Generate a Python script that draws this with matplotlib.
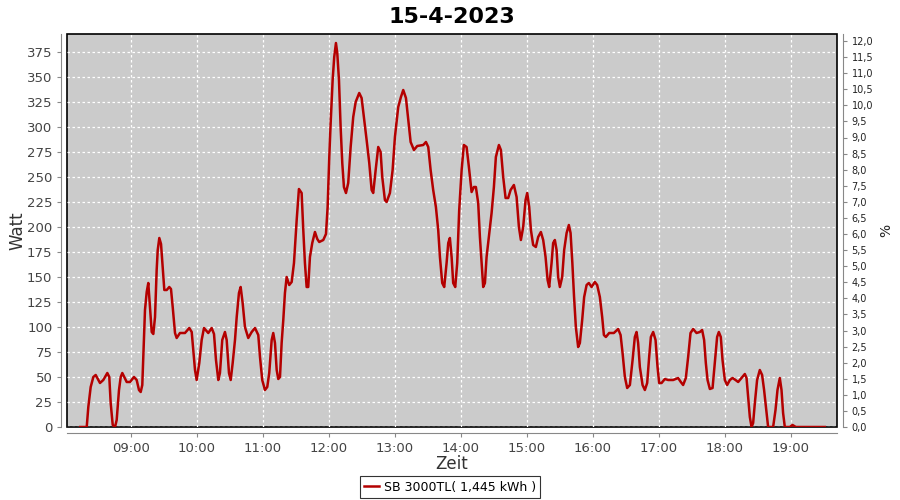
import matplotlib.pyplot as plt
from matplotlib.ticker import FuncFormatter

# Zeit in Stunden (dezimal), Leistung in Watt
hours = [8.230, 8.253, 8.329, 8.353, 8.389, 8.429, 8.465, 8.530, 8.580, 8.641, 8.671,
         8.692, 8.723, 8.758, 8.783, 8.818, 8.844, 8.868, 8.935, 8.985, 9.045, 9.086,
         9.121, 9.147, 9.171, 9.186, 9.212, 9.238, 9.262, 9.288, 9.314, 9.338, 9.364,
         9.389, 9.405, 9.429, 9.455, 9.480, 9.505, 9.541, 9.580, 9.606, 9.632, 9.667,
         9.692, 9.742, 9.818, 9.883, 9.920, 9.944, 9.970, 9.995, 10.035, 10.071, 10.106,
         10.171, 10.223, 10.258, 10.288, 10.323, 10.348, 10.383, 10.424, 10.450, 10.485,
         10.511, 10.541, 10.576, 10.602, 10.636, 10.662, 10.692, 10.727, 10.777, 10.829,
         10.879, 10.929, 10.955, 10.989, 11.030, 11.065, 11.095, 11.132, 11.156, 11.182,
         11.208, 11.232, 11.258, 11.283, 11.308, 11.333, 11.359, 11.398, 11.435, 11.470,
         11.511, 11.545, 11.586, 11.611, 11.636, 11.662, 11.686, 11.712, 11.747, 11.788,
         11.823, 11.853, 11.914, 11.955, 11.980, 12.005, 12.026, 12.056, 12.080, 12.106,
         12.126, 12.152, 12.177, 12.202, 12.227, 12.258, 12.292, 12.329, 12.368, 12.405,
         12.459, 12.495, 12.530, 12.571, 12.611, 12.647, 12.671, 12.708, 12.747, 12.783,
         12.808, 12.848, 12.874, 12.924, 12.965, 13.000, 13.050, 13.091, 13.126, 13.167,
         13.202, 13.238, 13.288, 13.338, 13.429, 13.470, 13.505, 13.541, 13.580, 13.621,
         13.656, 13.682, 13.717, 13.747, 13.783, 13.808, 13.833, 13.859, 13.883, 13.914,
         13.944, 13.974, 14.011, 14.045, 14.086, 14.121, 14.162, 14.197, 14.227, 14.262,
         14.288, 14.314, 14.338, 14.364, 14.389, 14.424, 14.465, 14.500, 14.530, 14.576,
         14.606, 14.641, 14.677, 14.717, 14.753, 14.803, 14.844, 14.879, 14.909, 14.944,
         14.980, 15.005, 15.035, 15.061, 15.095, 15.136, 15.171, 15.212, 15.247, 15.283,
         15.314, 15.338, 15.374, 15.398, 15.424, 15.450, 15.474, 15.500, 15.535, 15.565,
         15.602, 15.636, 15.662, 15.689, 15.715, 15.742, 15.777, 15.803, 15.838, 15.868,
         15.905, 15.939, 15.980, 16.030, 16.065, 16.106, 16.141, 16.167, 16.197, 16.247,
         16.318, 16.383, 16.420, 16.450, 16.485, 16.520, 16.561, 16.602, 16.636, 16.662,
         16.686, 16.712, 16.753, 16.788, 16.823, 16.853, 16.879, 16.914, 16.950, 16.980,
         17.005, 17.041, 17.091, 17.141, 17.217, 17.292, 17.333, 17.368, 17.409, 17.444,
         17.480, 17.520, 17.571, 17.621, 17.656, 17.686, 17.712, 17.738, 17.773, 17.814,
         17.848, 17.883, 17.909, 17.939, 17.965, 18.000, 18.035, 18.076, 18.117, 18.162,
         18.202, 18.253, 18.303, 18.329, 18.353, 18.379, 18.405, 18.429, 18.455, 18.489,
         18.530, 18.565, 18.595, 18.632, 18.656, 18.732, 18.768, 18.798, 18.833, 18.859,
         18.883, 18.909, 18.985, 19.026, 19.076, 19.515]
watt = [0, 0, 0, 20, 40, 50, 52, 44, 47, 54, 50,
        24, 2, 0, 7, 37, 50, 54, 45, 45, 50, 47,
        37, 35, 42, 70, 117, 135, 144, 120, 95, 93, 110,
        157, 177, 189, 183, 160, 137, 137, 140, 138, 120, 94,
        89, 94, 94, 99, 95, 77, 57, 47, 64, 87, 99,
        94, 99, 93, 67, 47, 54, 87, 95, 87, 54,
        47, 64, 87, 110, 134, 140, 124, 100, 89, 95,
        99, 92, 70, 47, 37, 40, 54, 87, 94, 84,
        57, 48, 50, 84, 107, 134, 150, 142, 145, 164,
        207, 238, 234, 197, 164, 140, 140, 170, 184, 195,
        188, 185, 187, 193, 220, 270, 304, 347, 370, 384,
        374, 347, 300, 264, 240, 234, 244, 280, 310, 325,
        334, 329, 310, 287, 264, 237, 234, 257, 280, 275,
        250, 227, 225, 234, 257, 290, 320, 330, 337, 329,
        307, 285, 277, 281, 282, 285, 280, 257, 237, 220,
        197, 170, 144, 140, 164, 184, 189, 170, 144, 140,
        164, 217, 257, 282, 280, 260, 235, 240, 240, 224,
        190, 164, 140, 144, 170, 190, 214, 240, 270, 282,
        277, 250, 229, 229, 237, 242, 230, 200, 187, 200,
        227, 234, 220, 197, 182, 180, 190, 195, 187, 170,
        147, 140, 164, 184, 187, 177, 150, 140, 150, 177,
        194, 202, 194, 164, 130, 100, 80, 84, 107, 130,
        142, 144, 140, 145, 142, 130, 110, 92, 90, 94,
        94, 98, 92, 74, 50, 39, 42, 67, 90, 95,
        84, 60, 42, 37, 44, 70, 90, 95, 87, 60,
        44, 44, 48, 47, 47, 49, 45, 42, 49, 70,
        94, 98, 94, 95, 97, 87, 64, 47, 38, 39,
        64, 90, 95, 90, 67, 47, 42, 47, 49, 47,
        45, 49, 53, 49, 30, 10, 0, 4, 24, 47,
        57, 52, 37, 14, 0, 0, 17, 37, 49, 37,
        14, 0, 0, 2, 0, 0]

tick_hours = [9, 10, 11, 12, 13, 14, 15, 16, 17, 18, 19]
tick_labels = ['09:00', '10:00', '11:00', '12:00', '13:00', '14:00', '15:00',
               '16:00', '17:00', '18:00', '19:00']
watt_ticks = list(range(0, 376, 25))
pct_ticks = [i * 0.5 for i in range(25)]

fig = plt.figure(figsize=(9, 5), dpi=100)
ax = fig.add_axes([67 / 900, 73 / 500, 770 / 900, 393 / 500])

ax.set_facecolor('#cbcbcb')
ax.patch.set_edgecolor('black')
ax.patch.set_linewidth(1.2)

ax.plot(hours, watt, color='#b40000', linewidth=1.8, label='SB 3000TL( 1,445 kWh )')

ax.set_xlim(8.03, 19.70)
ax.set_ylim(0, 393)
ax.set_xticks(tick_hours)
ax.set_xticklabels(tick_labels)
ax.set_yticks(watt_ticks)
ax.grid(True, color='white', linestyle=(0, (2, 2)), linewidth=0.9)

for s in ['top', 'right']:
    ax.spines[s].set_visible(False)
for s in ['left', 'bottom']:
    ax.spines[s].set_position(('outward', 4))
    ax.spines[s].set_color('#888888')
ax.tick_params(axis='both', colors='#888888', labelcolor='#444444', labelsize=9.5,
               length=3, width=0.8)

ax.set_xlabel('Zeit', fontsize=12, color='#333333', labelpad=0)
ax.set_ylabel('Watt', fontsize=12, color='#333333', labelpad=0)
ax.set_title('15-4-2023', fontsize=16, fontweight='bold', pad=8)

# rechte Achse in Prozent
ax2 = ax.twinx()
ax2.set_ylim(0, 393 / (386 / 12))
ax2.set_yticks(pct_ticks)
ax2.yaxis.set_major_formatter(FuncFormatter(lambda v, p: f'{v:.1f}'.replace('.', ',')))
for s in ['top', 'left', 'bottom']:
    ax2.spines[s].set_visible(False)
ax2.spines['right'].set_position(('outward', 4))
ax2.spines['right'].set_color('#888888')
ax2.tick_params(axis='y', colors='#888888', labelcolor='#222222', labelsize=7,
                length=3, width=0.8)
ax2.set_ylabel('%', fontsize=10, color='#222222', labelpad=4)

leg = fig.legend(loc='center', bbox_to_anchor=(450 / 900, 13 / 500), ncol=1,
                 frameon=True, fancybox=False, fontsize=9, handlelength=1.2,
                 borderpad=0.35, handletextpad=0.4)
leg.get_frame().set_edgecolor('black')
leg.get_frame().set_linewidth(0.8)

plt.savefig('out.png', dpi=100)
